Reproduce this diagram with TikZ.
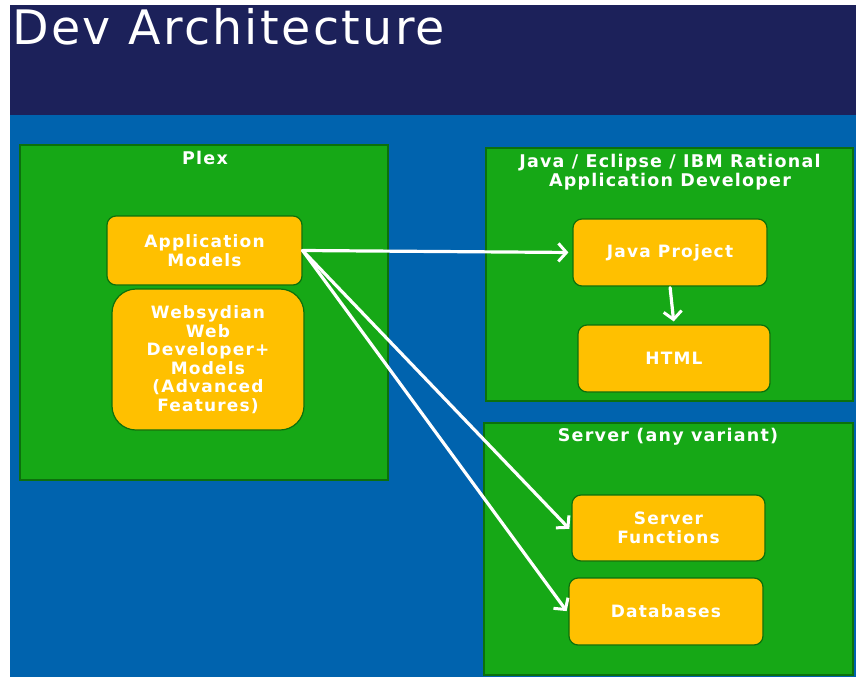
\documentclass[tikz,border=0pt]{standalone}
\usepackage{fontspec}
\setmainfont{DejaVu Sans}
\newfontfamily\titlefont[LetterSpace=5]{DejaVu Sans}
\newfontfamily\boxfont[LetterSpace=7]{DejaVu Sans Bold}
\usetikzlibrary{arrows.meta}
\definecolor{header}{RGB}{28,33,90}
\definecolor{slide}{RGB}{0,99,174}
\definecolor{panel}{RGB}{22,168,22}
\definecolor{panelline}{RGB}{12,112,12}
\definecolor{item}{RGB}{255,192,0}
\tikzset{
  panel/.style={draw=panelline, line width=2pt, fill=panel},
  heading/.style={text=white, font=\boxfont\fontsize{17.5}{19}\selectfont, align=center},
  item/.style={draw=panelline, line width=1.2pt, fill=item, rounded corners=9pt, text=white,
    font=\boxfont\fontsize{17}{18.5}\selectfont, align=center, inner sep=0pt},
  link/.style={draw=white, line width=3.2pt, line cap=round, -{Straight Barb[length=8pt,width=18pt,line width=3pt]}}
}
\begin{document}
\begin{tikzpicture}[x=1pt,y=-1pt]
\useasboundingbox (0,0) rectangle (856,677);
% slide background
\fill[header] (10,5) rectangle (856,115);
\fill[slide] (10,115) rectangle (856,677);
\node[anchor=base west, text=white, font=\titlefont\fontsize{47.5}{50}\selectfont, inner sep=0pt] (title) at (12,45) {Dev Architecture};

% panels
\draw[panel] (20,145) rectangle (388,480);
\draw[panel] (486,148) rectangle (853,401);
\draw[panel] (484,423) rectangle (853,675);
\node[heading] (plex) at (205,158) {Plex};
\node[heading] (ide) at (670,172) {Java / Eclipse / IBM Rational\\Application Developer};
\node[heading] (server) at (668,437) {Server (any variant)};

% boxes
\node[item, minimum width=195pt, minimum height=69pt] (appmodels) at (204.5,250.5) {Application\\Models};
\node[item, rounded corners=24pt, minimum width=192pt, minimum height=141pt] (websydian) at (208,359.5) {Websydian\\Web\\Developer+\\Models\\(Advanced\\Features)};
\node[item, minimum width=194pt, minimum height=67pt] (javaproj) at (670,252.5) {Java Project};
\node[item, minimum width=192pt, minimum height=67pt] (html) at (674,358.5) {HTML};
\node[item, minimum width=193pt, minimum height=66pt] (srvfunc) at (668.5,528) {Server\\Functions};
\node[item, minimum width=194pt, minimum height=67pt] (databases) at (666,611.5) {Databases};

% links
\draw[link, shorten >=4pt] (appmodels.east) -- (javaproj.west);
\draw[link, shorten >=3pt] (appmodels.east) -- ([yshift=-3pt]srvfunc.west);
\draw[link, shorten >=3pt] (appmodels.east) -- ([yshift=-2pt]databases.west);
\draw[link, shorten >=3pt, shorten <=1pt] (javaproj.south) -- (html.north);
\end{tikzpicture}
\end{document}
